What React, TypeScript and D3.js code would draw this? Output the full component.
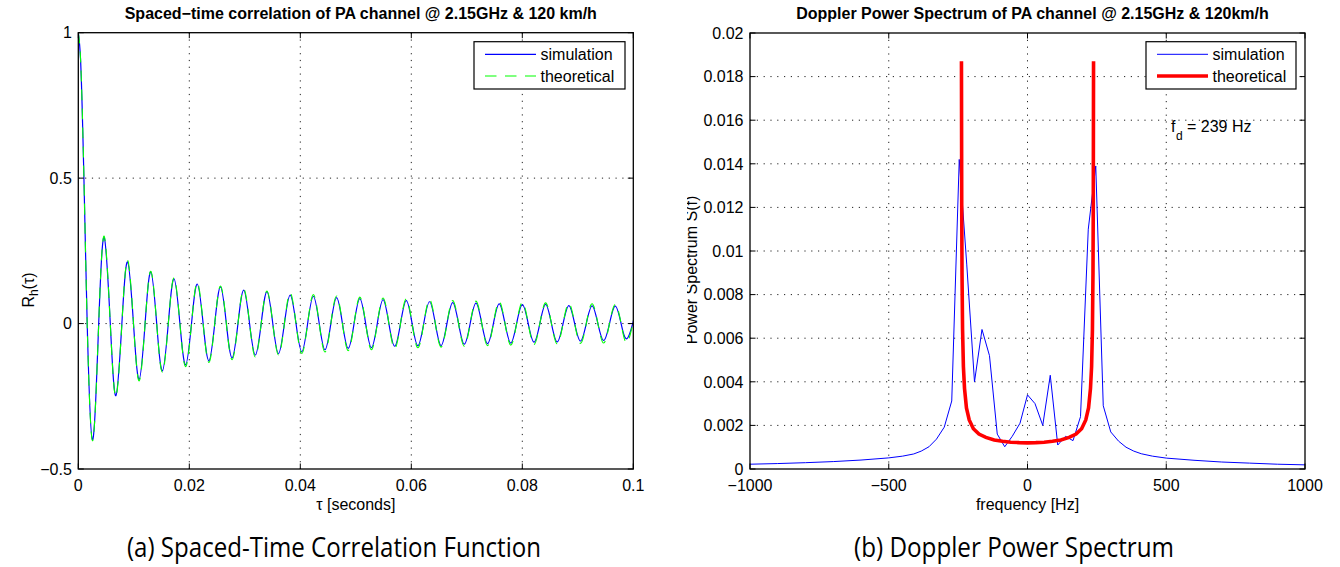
import React from 'react';
import * as d3 from 'd3';

// ---------- Left panel data (spaced-time correlation) ----------
const tauHeadMs = [0, 0.4, 0.8, 1.2];
const theoryHead = [1, 0.912, 0.671, 0.34];
const simHead = [1, 0.91, 0.668, 0.338];
const tauZeroMs = [1.601, 3.676, 5.763, 7.852, 9.943, 12.034, 14.125, 16.217, 18.308, 20.4, 22.492, 24.584, 26.676, 28.768, 30.86, 32.952, 35.044, 37.135, 39.227, 41.319, 43.411, 45.503, 47.595, 49.687, 51.779, 53.871, 55.963, 58.055, 60.147, 62.239, 64.331, 66.423, 68.515, 70.607, 72.699, 74.792, 76.884, 78.975, 81.067, 83.159, 85.252, 87.344, 89.436, 91.528, 93.62, 95.712, 97.804, 99.896];
const tauExtMs = [2.552, 4.672, 6.775, 8.873, 10.968, 13.063, 15.156, 17.25, 19.343, 21.436, 23.529, 25.621, 27.714, 29.806, 31.899, 33.991, 36.083, 38.176, 40.268, 42.36, 44.452, 46.545, 48.637, 50.729, 52.821, 54.913, 57.005, 59.098, 61.189, 63.282, 65.374, 67.466, 69.558, 71.65, 73.742, 75.834, 77.926, 80.019, 82.111, 84.203, 86.295, 88.387, 90.479, 92.571, 94.663, 96.755, 98.847];
const theoryExt = [-0.403, 0.3, -0.25, 0.218, -0.197, 0.18, -0.167, 0.157, -0.148, 0.141, -0.134, 0.129, -0.124, 0.119, -0.115, 0.112, -0.108, 0.105, -0.103, 0.1, -0.098, 0.095, -0.093, 0.091, -0.09, 0.088, -0.086, 0.085, -0.083, 0.082, -0.081, 0.079, -0.078, 0.077, -0.076, 0.075, -0.074, 0.073, -0.072, 0.071, -0.07, 0.069, -0.068, 0.068, -0.067, 0.066, -0.065];
const simExt = [-0.4, 0.296, -0.248, 0.212, -0.192, 0.178, -0.163, 0.154, -0.142, 0.136, -0.128, 0.126, -0.118, 0.115, -0.108, 0.11, -0.103, 0.098, -0.097, 0.094, -0.09, 0.089, -0.085, 0.086, -0.083, 0.082, -0.078, 0.079, -0.076, 0.075, -0.076, 0.072, -0.071, 0.07, -0.069, 0.068, -0.067, 0.065, -0.064, 0.066, -0.063, 0.062, -0.06, 0.061, -0.058, 0.06, -0.052];
const tauEndMs = 100;
const theoryEnd = 0.01;
const simEnd = 0.006;

// ---------- Right panel data (Doppler spectrum) ----------
const simFreq = [-1000, -900, -800, -700, -600, -500, -450, -410, -383, -355, -328, -300, -273, -246, -219, -191, -164, -137, -109, -82, -55, -27, 0, 27, 55, 82, 109, 137, 164, 191, 219, 246, 273, 300, 328, 355, 383, 410, 450, 500, 600, 700, 800, 900, 1000];
const simPower = [0.00022, 0.00025, 0.00029, 0.00034, 0.00041, 0.00051, 0.00059, 0.00069, 0.00082, 0.00102, 0.00137, 0.00192, 0.00312, 0.0142, 0.0094, 0.004, 0.0064, 0.0052, 0.0016, 0.00102, 0.0015, 0.0021, 0.0034, 0.003, 0.002, 0.0043, 0.0011, 0.0015, 0.0013, 0.0024, 0.011, 0.0139, 0.0029, 0.0017, 0.00128, 0.001, 0.00082, 0.0007, 0.00059, 0.0005, 0.0004, 0.00032, 0.00027, 0.00022, 0.00019];
const theoFreq = [-238, -237, -236, -234, -231, -227, -220, -210, -195, -175, -150, -120, -90, -60, -30, 0, 30, 60, 90, 120, 150, 175, 195, 210, 220, 227, 231, 234, 236, 237, 238];
const theoPower = [0.0187, 0.012, 0.009, 0.0064, 0.0047, 0.0037, 0.0028, 0.00225, 0.00185, 0.0016, 0.00145, 0.00133, 0.00127, 0.00123, 0.00121, 0.0012, 0.00121, 0.00123, 0.00127, 0.00133, 0.00145, 0.0016, 0.00185, 0.00225, 0.0028, 0.0037, 0.0047, 0.0064, 0.009, 0.012, 0.0187];

// ---------- Ticks ----------
const xTicksL = [0, 0.02, 0.04, 0.06, 0.08, 0.1];
const xLabelsL = ['0', '0.02', '0.04', '0.06', '0.08', '0.1'];
const yTicksL = [-0.5, 0, 0.5, 1];
const yLabelsL = ['\u22120.5', '0', '0.5', '1'];
const xTicksR = [-1000, -500, 0, 500, 1000];
const xLabelsR = ['\u22121000', '\u2212500', '0', '500', '1000'];
const yTicksR = [0, 0.002, 0.004, 0.006, 0.008, 0.01, 0.012, 0.014, 0.016, 0.018, 0.02];
const yLabelsR = ['0', '0.002', '0.004', '0.006', '0.008', '0.01', '0.012', '0.014', '0.016', '0.018', '0.02'];

const FONT = "'Liberation Sans', Arial, Helvetica, sans-serif";
const CAPFONT = "'Open Sans', 'Noto Sans', sans-serif";
const FS = 16;

const LB = { x0: 78.3, x1: 633.3, y0: 32.7, y1: 469 };
const RB = { x0: 750, x1: 1305, y0: 33, y1: 469 };

function buildSeries(head: number[], ext: number[], end: number) {
  const pts: [number, number][] = [];
  tauHeadMs.forEach((t, i) => pts.push([t / 1000, head[i]]));
  for (let i = 0; i < tauZeroMs.length; i++) {
    pts.push([tauZeroMs[i] / 1000, 0]);
    if (i < tauExtMs.length) pts.push([tauExtMs[i] / 1000, ext[i]]);
  }
  pts.push([tauEndMs / 1000, end]);
  return pts;
}

type AxesProps = {
  b: { x0: number; x1: number; y0: number; y1: number };
  x: d3.ScaleLinear<number, number>;
  y: d3.ScaleLinear<number, number>;
  xTicks: number[]; xLabels: string[];
  yTicks: number[]; yLabels: string[];
  children?: React.ReactNode;
};

function Axes({ b, x, y, xTicks, xLabels, yTicks, yLabels, children }: AxesProps) {
  const tl = 5.5;
  const gridX = xTicks.filter((t) => Math.abs(x(t) - b.x0) > 1 && Math.abs(x(t) - b.x1) > 1);
  const gridY = yTicks.filter((t) => Math.abs(y(t) - b.y0) > 1 && Math.abs(y(t) - b.y1) > 1);
  return (
    <g>
      <rect x={b.x0} y={b.y0} width={b.x1 - b.x0} height={b.y1 - b.y0} fill="#fff" />
      <g stroke="#222" strokeWidth={1} strokeDasharray="1.2,5.6">
        {gridX.map((t) => (
          <line key={'gx' + t} x1={x(t)} x2={x(t)} y1={b.y0} y2={b.y1} />
        ))}
        {gridY.map((t) => (
          <line key={'gy' + t} x1={b.x0} x2={b.x1} y1={y(t)} y2={y(t)} />
        ))}
      </g>
      {children}
      <rect x={b.x0} y={b.y0} width={b.x1 - b.x0} height={b.y1 - b.y0} fill="none" stroke="#000" strokeWidth={1.3} />
      <g stroke="#000" strokeWidth={1}>
        {xTicks.map((t) => (
          <g key={'tx' + t}>
            <line x1={x(t)} x2={x(t)} y1={b.y1} y2={b.y1 - tl} />
            <line x1={x(t)} x2={x(t)} y1={b.y0} y2={b.y0 + tl} />
          </g>
        ))}
        {yTicks.map((t) => (
          <g key={'ty' + t}>
            <line x1={b.x0} x2={b.x0 + tl} y1={y(t)} y2={y(t)} />
            <line x1={b.x1} x2={b.x1 - tl} y1={y(t)} y2={y(t)} />
          </g>
        ))}
      </g>
      <g fontFamily={FONT} fontSize={FS} fill="#000">
        {xTicks.map((t, i) => (
          <text key={'lx' + t} x={x(t)} y={b.y1 + 21.7} textAnchor="middle">{xLabels[i]}</text>
        ))}
        {yTicks.map((t, i) => (
          <text key={'ly' + t} x={b.x0 - 6.5} y={y(t)} dy="0.36em" textAnchor="end">{yLabels[i]}</text>
        ))}
      </g>
    </g>
  );
}

function Legend({ x0, x1, y0, y1, items }: { x0: number; x1: number; y0: number; y1: number; items: { label: string; color: string; width: number; dash?: string }[] }) {
  const rows = [y0 + 12.6, y0 + 34.3];
  return (
    <g>
      <rect x={x0} y={y0} width={x1 - x0} height={y1 - y0} fill="#fff" stroke="#000" strokeWidth={1.2} />
      {items.map((it, i) => (
        <g key={it.label}>
          <line x1={x0 + 11} x2={x0 + 62} y1={rows[i]} y2={rows[i]} stroke={it.color} strokeWidth={it.width} strokeDasharray={it.dash} />
          <text x={x0 + 66.5} y={rows[i]} dy="0.36em" fontFamily={FONT} fontSize={FS} fill="#000">{it.label}</text>
        </g>
      ))}
    </g>
  );
}

export default function App() {
  const xL = d3.scaleLinear().domain([0, 0.1]).range([LB.x0, LB.x1]);
  const yL = d3.scaleLinear().domain([-0.5, 1]).range([LB.y1, LB.y0]);
  const xR = d3.scaleLinear().domain([-1000, 1000]).range([RB.x0, RB.x1]);
  const yR = d3.scaleLinear().domain([0, 0.02]).range([RB.y1, RB.y0]);

  const simSeries = buildSeries(simHead, simExt, simEnd);
  const theorySeries = buildSeries(theoryHead, theoryExt, theoryEnd);
  const lineL = d3.line<[number, number]>().x((d) => xL(d[0])).y((d) => yL(d[1])).curve(d3.curveNatural);

  const specSim: [number, number][] = simFreq.map((f, i) => [f, simPower[i]]);
  const specTheo: [number, number][] = theoFreq.map((f, i) => [f, theoPower[i]]);
  const lineR = d3.line<[number, number]>().x((d) => xR(d[0])).y((d) => yR(d[1]));

  const cxL = (LB.x0 + LB.x1) / 2;
  const cxR = (RB.x0 + RB.x1) / 2;

  return (
    <svg width={1340} height={567} style={{ position: 'absolute', left: 0, top: 0, background: '#fff' }}>
      <defs>
        <clipPath id="clipL"><rect x={LB.x0} y={LB.y0 - 2} width={LB.x1 - LB.x0} height={LB.y1 - LB.y0 + 4} /></clipPath>
        <clipPath id="clipR"><rect x={RB.x0} y={RB.y0} width={RB.x1 - RB.x0} height={RB.y1 - RB.y0} /></clipPath>
        <clipPath id="clipYR"><rect x={687} y={0} width={60} height={567} /></clipPath>
      </defs>
      <rect x={0} y={0} width={1340} height={567} fill="#fff" />

      {/* Left panel */}
      <text x={cxL + 5} y={19.3} textAnchor="middle" fontFamily={FONT} fontSize={16} fontWeight="bold">Spaced{'\u2212'}time correlation of PA channel @ 2.15GHz &amp; 120 km/h</text>
      <Axes b={LB} x={xL} y={yL} xTicks={xTicksL} xLabels={xLabelsL} yTicks={yTicksL} yLabels={yLabelsL}>
        <g clipPath="url(#clipL)" fill="none">
          <path d={lineL(simSeries) || ''} stroke="#0000ff" strokeWidth={1.2} />
          <path d={lineL(theorySeries) || ''} stroke="#00ff00" strokeWidth={1.1} strokeDasharray="11,8" />
        </g>
      </Axes>
      <Legend x0={474} x1={625} y0={41.7} y1={89} items={[
        { label: 'simulation', color: '#0000ff', width: 1.2 },
        { label: 'theoretical', color: '#00ff00', width: 1.1, dash: '11.5,8.5' },
      ]} />
      <text x={cxL} y={510} textAnchor="middle" fontFamily={FONT} fontSize={FS}>{'\u03c4'} [seconds]</text>
      <text transform={`translate(34,290) rotate(-90)`} textAnchor="middle" fontFamily={FONT} fontSize={FS}>
        <tspan>R</tspan><tspan fontSize={12} dy={4}>h</tspan><tspan dy={-4}>({'\u03c4'})</tspan>
      </text>

      {/* Right panel */}
      <text x={cxR + 5} y={19.3} textAnchor="middle" fontFamily={FONT} fontSize={16} fontWeight="bold">Doppler Power Spectrum of PA channel @ 2.15GHz &amp; 120km/h</text>
      <Axes b={RB} x={xR} y={yR} xTicks={xTicksR} xLabels={xLabelsR} yTicks={yTicksR} yLabels={yLabelsR}>
        <g clipPath="url(#clipR)" fill="none">
          <path d={lineR(specSim) || ''} stroke="#0000ff" strokeWidth={1} />
          <path d={lineR(specTheo) || ''} stroke="#ff0000" strokeWidth={3.6} />
        </g>
      </Axes>
      <Legend x0={1146} x1={1296} y0={41.7} y1={89} items={[
        { label: 'simulation', color: '#0000ff', width: 1 },
        { label: 'theoretical', color: '#ff0000', width: 3.6 },
      ]} />
      <text fontFamily={FONT} fontSize={FS}>
        <tspan x={1171} y={131.7}>f</tspan>
        <tspan x={1176} y={140} fontSize={12}>d</tspan>
        <tspan x={1187} y={131.7}>= 239 Hz</tspan>
      </text>
      <text x={cxR} y={510} textAnchor="middle" fontFamily={FONT} fontSize={FS}>frequency [Hz]</text>
      <g clipPath="url(#clipYR)">
        <text transform={`translate(697,270) rotate(-90)`} textAnchor="middle" fontFamily={FONT} fontSize={FS}>Power Spectrum S(f)</text>
      </g>

      {/* Captions */}
      <text x={334} y={557} textAnchor="middle" fontFamily={CAPFONT} fontSize={26.5} textLength={414} lengthAdjust="spacingAndGlyphs">(a) Spaced-Time Correlation Function</text>
      <text x={1014} y={557} textAnchor="middle" fontFamily={CAPFONT} fontSize={26.5} textLength={320} lengthAdjust="spacingAndGlyphs">(b) Doppler Power Spectrum</text>
    </svg>
  );
}
